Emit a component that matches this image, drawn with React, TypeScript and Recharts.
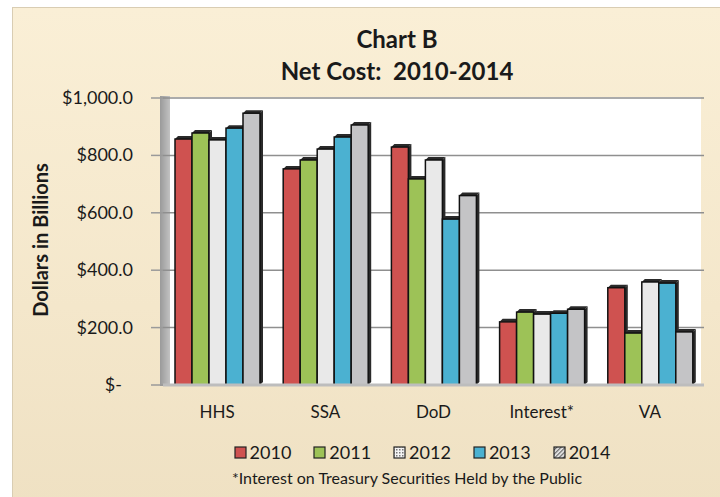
import React from "react";
import { BarChart, Bar, XAxis, YAxis, CartesianGrid } from "recharts";

const CATEGORIES = ["HHS", "SSA", "DoD", "Interest*", "VA"];
const Y2010 = [857, 753, 829, 220, 339];
const Y2011 = [878, 784, 718, 254, 181];
const Y2012 = [854, 822, 784, 247, 359];
const Y2013 = [895, 864, 578, 250, 355];
const Y2014 = [947, 906, 660, 264, 185];
const Y_TICKS = [0, 200, 400, 600, 800, 1000];

const SERIES = [
  { key: "y2010", name: "2010", color: "#cf5250", legend: "#cf5250" },
  { key: "y2011", name: "2011", color: "#9dc257", legend: "#9dc257" },
  { key: "y2012", name: "2012", color: "#e9e9e9", legend: "url(#dots)" },
  { key: "y2013", name: "2013", color: "#4bb1d1", legend: "#4bb1d1" },
  { key: "y2014", name: "2014", color: "#c4c4c6", legend: "url(#hatch)" },
];

const data = CATEGORIES.map((c, i) => ({
  name: c,
  y2010: Y2010[i],
  y2011: Y2011[i],
  y2012: Y2012[i],
  y2013: Y2013[i],
  y2014: Y2014[i],
}));

const FONT = "Lato, 'Open Sans', sans-serif";

const fmt = (v: number) =>
  v === 0
    ? "$-"
    : "$" + v.toLocaleString("en-US", { minimumFractionDigits: 1, maximumFractionDigits: 1 });

const YTick = (props: any) => {
  const { x, y, payload } = props;
  return (
    <text
      x={payload.value === 0 ? x - 11 : x}
      y={y}
      dy={6}
      textAnchor="end"
      fontSize={18}
      fill="#1a1a1a"
      fontFamily={FONT}
    >
      {fmt(payload.value)}
    </text>
  );
};

const Bar3D = (props: any) => {
  const { x, y, width, height, fill } = props;
  const d = 3;
  return (
    <g>
      <polygon
        points={`${x + width},${y} ${x + width + d},${y - d} ${x + width + d},${y + height - d} ${x + width},${y + height}`}
        fill="#2a2a2a"
      />
      <polygon
        points={`${x},${y} ${x + d},${y - d} ${x + width + d},${y - d} ${x + width},${y}`}
        fill="#2a2a2a"
      />
      <rect x={x} y={y} width={width} height={height} fill={fill} stroke="#111" strokeWidth={1.5} />
    </g>
  );
};

const LegendBox = () => (
  <div
    style={{
      position: "absolute",
      left: 0,
      top: 441,
      width: 844,
      display: "flex",
      justifyContent: "center",
      gap: 22,
      fontFamily: FONT,
      fontSize: 18,
      color: "#1a1a1a",
    }}
  >
    {SERIES.map((s) => (
      <div key={s.key} style={{ display: "flex", alignItems: "center", gap: 3 }}>
        <svg width={13} height={13}>
          <defs>
            <pattern id="dots" width="3" height="3" patternUnits="userSpaceOnUse">
              <rect width="3" height="3" fill="#f4f4f4" />
              <rect width="1.5" height="1.5" fill="#777" />
            </pattern>
            <pattern id="hatch" width="3" height="3" patternUnits="userSpaceOnUse" patternTransform="rotate(45)">
              <rect width="3" height="3" fill="#e8e8e8" />
              <rect width="1.2" height="3" fill="#666" />
            </pattern>
          </defs>
          <rect x={1} y={1} width={11} height={11} fill={s.legend} stroke="#222" strokeWidth={1.2} />
        </svg>
        <span>{s.name}</span>
      </div>
    ))}
  </div>
);

export default function App() {
  return (
    <div style={{ position: "absolute", left: 0, top: 0, width: 720, height: 497, background: "#fff", overflow: "hidden" }}>
      <div
        style={{
          position: "absolute",
          left: 12,
          top: 7,
          width: 720,
          height: 497,
          background: "linear-gradient(180deg, #faefd6 0%, #f4e7cb 60%, #efe1c3 100%)",
          border: "1px solid #d9cdb3",
        }}
      />
      {/* 3D walls */}
      <div style={{ position: "absolute", left: 160, top: 96, width: 10, height: 290, background: "linear-gradient(90deg,#9a9a9a,#c2c2c2)" }} />
      <div style={{ position: "absolute", left: 170, top: 97, width: 531, height: 288, background: "#fff" }} />
      <div
        style={{
          position: "absolute",
          left: 0,
          top: 23,
          width: 794,
          textAlign: "center",
          fontFamily: FONT,
          fontWeight: 700,
          fontSize: 24,
          lineHeight: "32px",
          color: "#1a1a1a",
          whiteSpace: "pre",
        }}
      >
        <div>Chart B</div>
        <div>{"Net Cost:  2010-2014"}</div>
      </div>
      <div
        style={{
          position: "absolute",
          left: 40,
          top: 240,
          transform: "translate(-50%, -50%) rotate(-90deg)",
          fontFamily: FONT,
          fontWeight: 700,
          fontSize: 20,
          color: "#1a1a1a",
          whiteSpace: "nowrap",
        }}
      >
        Dollars in Billions
      </div>
      <LegendBox />
      <div
        style={{
          position: "absolute",
          left: 0,
          top: 468,
          width: 814,
          textAlign: "center",
          fontFamily: FONT,
          fontSize: 16,
          color: "#1a1a1a",
        }}
      >
        *Interest on Treasury Securities Held by the Public
      </div>
      <div style={{ position: "absolute", left: 0, top: 0 }}>
        <BarChart
          width={720}
          height={497}
          data={data}
          margin={{ top: 98, right: 16, bottom: 82, left: 10 }}
          barGap={0}
          barSize={17}
        >
          <CartesianGrid vertical={false} stroke="#8f8f8f" strokeWidth={1.5} />
          <XAxis
            dataKey="name"
            height={30}
            tickLine={false}
            axisLine={{ stroke: "#bdbdbd", strokeWidth: 3 }}
            tickSize={0}
            tickMargin={21}
            tick={{ fontSize: 17, fill: "#1a1a1a", fontFamily: FONT }}
            interval={0}
          />
          <YAxis
            width={153}
            domain={[0, 1000]}
            ticks={Y_TICKS}
            axisLine={false}
            tickLine={{ stroke: "#9a9a9a", strokeWidth: 1.5 }}
            tickSize={12}
            tickMargin={18}
            tick={<YTick />}
          />
          {SERIES.map((s) => (
            <Bar
              key={s.key}
              dataKey={s.key}
              name={s.name}
              fill={s.color}
              shape={<Bar3D />}
              isAnimationActive={false}
            />
          ))}
        </BarChart>
      </div>
    </div>
  );
}
